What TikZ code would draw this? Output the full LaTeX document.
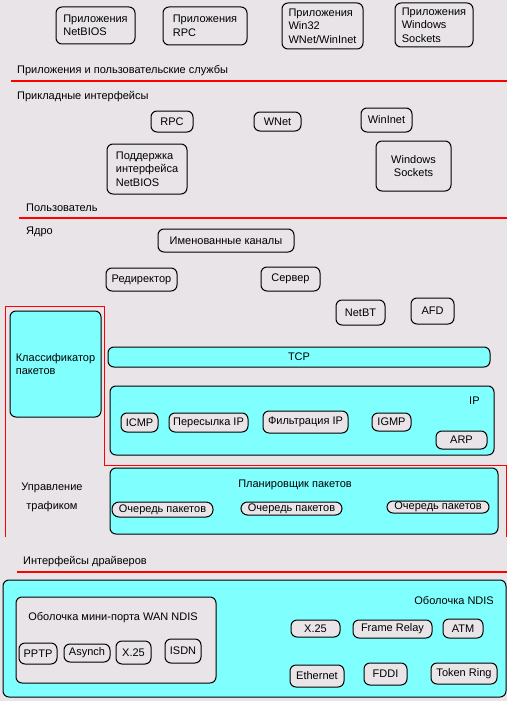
\documentclass[tikz,border=0pt]{standalone}
\usepackage{fontspec}
\setmainfont{Liberation Sans}
\definecolor{bgc}{RGB}{232,228,232}
\definecolor{cyanf}{RGB}{128,255,255}
\definecolor{redl}{RGB}{255,0,0}
\newcommand\bx[7]{\node[box,#6,minimum width={#4-#2},minimum height={#5-#3}] (#1) at ({(#2+#4)/2},{(#3+#5)/2}) {#7};}
\begin{document}
\begin{tikzpicture}[x=1pt,y=-1pt,
  box/.style={draw=black, line width=1pt, rounded corners=6pt, inner sep=0pt, fill=bgc,
    font=\fontsize{11}{13.5}\selectfont},
  cy/.style={fill=cyanf},
  lbl/.style={inner sep=0pt, anchor=west, font=\fontsize{11}{13.5}\selectfont},
  redline/.style={draw=redl, line width=2pt},
  redframe/.style={draw=redl, line width=1pt}
]
\fill[bgc] (0,0) rectangle (507,701);
\useasboundingbox (0,0) rectangle (507,701);
% top applications
\bx{a1}{56}{7}{135}{44}{align=left}{Приложения\\NetBIOS}
\bx{a2}{163}{7}{247}{45}{align=left}{Приложения\\RPC}
\bx{a3}{282}{3}{363}{49}{align=left}{Приложения\\Win32\\WNet/WinInet}
\bx{a4}{395}{3}{473}{47}{align=left}{Приложения\\Windows\\Sockets}
\node[lbl] (l1) at (17,71) {Приложения и пользовательские службы};
\draw[redline] (11,81) -- (507,81);
\node[lbl] (l2) at (17,97) {Прикладные интерфейсы};
% APIs
\bx{b1}{151}{111}{193}{132}{}{RPC}
\bx{b2}{254}{112}{301}{131}{}{WNet}
\bx{b3}{361}{108}{412}{132}{}{WinInet}
\bx{b4}{107}{144}{187}{194}{align=left}{Поддержка\\интерфейса\\NetBIOS}
\bx{b5}{376}{141}{451}{191}{align=center}{Windows\\Sockets}
\node[lbl] (l3) at (26,208) {Пользователь};
\draw[redline] (19,218) -- (507,218);
\node[lbl] (l4) at (26,232) {Ядро};
% kernel
\bx{c1}{158}{229}{294}{252}{}{Именованные каналы}
\bx{c2}{106}{268}{177}{291}{}{Редиректор}
\bx{c3}{261}{267}{320}{291}{}{Сервер}
\bx{c4}{336}{300}{385}{325}{}{NetBT}
\bx{c5}{411}{298}{454}{324}{}{AFD}
% red frame of traffic control
\draw[redframe] (5,537) -- (5,306) -- (104,306) -- (104,465) -- (506,465) -- (506,537);
\bx{d1}{10}{311}{101}{417}{cy,align=left}{Классификатор\\пакетов}
\bx{d2}{108}{347}{490}{367}{cy}{TCP}
\bx{d3}{110}{386}{494}{455}{cy}{}
\node[lbl] (ipl) at (469,401) {IP};
\bx{e1}{121}{413}{158}{432}{}{ICMP}
\bx{e2}{169}{413}{248}{432}{}{Пересылка IP}
\bx{e3}{263}{411}{348}{433}{}{Фильтрация IP}
\bx{e4}{372}{413}{411}{431}{}{IGMP}
\bx{e5}{436}{431}{487}{449}{}{ARP}
\node[inner sep=0pt, align=center, font=\fontsize{11}{19}\selectfont] (l5) at (52,497) {Управление\\трафиком};
\bx{f1}{110}{468}{498}{534}{cy}{}
\node[inner sep=0pt, font=\fontsize{11}{13.5}\selectfont] (psl) at (295,485) {Планировщик пакетов};
\bx{f2}{112}{502}{213}{517}{rounded corners=7pt}{Очередь пакетов}
\bx{f3}{241}{502}{342}{515}{rounded corners=6.5pt}{Очередь пакетов}
\bx{f4}{387}{501}{489}{513}{rounded corners=6pt}{Очередь пакетов}
\node[lbl] (l6) at (23,562) {Интерфейсы драйверов};
\draw[redline] (17,572) -- (507,572);
% NDIS
\bx{g0}{3}{580}{506}{697}{cy}{}
\node[inner sep=0pt, anchor=east, font=\fontsize{11}{13.5}\selectfont] (ndl) at (494,601) {Оболочка NDIS};
\bx{g1}{16}{597}{216}{683}{}{}
\node[inner sep=0pt, font=\fontsize{11}{13.5}\selectfont] (wanl) at (113,618) {Оболочка мини-порта WAN NDIS};
\bx{h1}{19}{643}{57}{664}{}{PPTP}
\bx{h2}{64}{644}{110}{662}{}{Asynch}
\bx{h3}{116}{641}{151}{664}{}{X.25}
\bx{h4}{165}{639}{201}{663}{}{ISDN}
\bx{i1}{291}{620}{340}{637}{}{X.25}
\bx{i2}{353}{620}{432}{638}{}{Frame Relay}
\bx{i3}{443}{619}{483}{638}{}{ATM}
\bx{i4}{290}{665}{344}{687}{}{Ethernet}
\bx{i5}{364}{663}{407}{685}{}{FDDI}
\bx{i6}{431}{663}{497}{684}{}{Token Ring}
\end{tikzpicture}
\end{document}
